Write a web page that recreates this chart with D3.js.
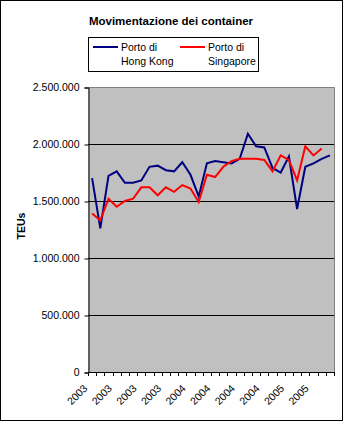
<!DOCTYPE html>
<html>
<head>
<meta charset="utf-8">
<script src="https://cdn.jsdelivr.net/npm/d3@7"></script>
<style>
  body { margin: 0; background: #fff; }
  svg { display: block; font-family: "Liberation Sans", Arial, sans-serif; }
</style>
</head>
<body>
<script>
// Monthly container traffic (TEUs), Jan 2003 - Jun 2005
var mesi = ["2003","2003","2003","2003","2003","2003","2003","2003","2003","2003","2003","2003",
            "2004","2004","2004","2004","2004","2004","2004","2004","2004","2004","2004","2004",
            "2005","2005","2005","2005","2005","2005"];
var hongKong = [1700000, 1260000, 1720000, 1760000, 1660000, 1660000, 1680000, 1800000, 1810000, 1770000,
                1760000, 1840000, 1730000, 1540000, 1830000, 1850000, 1840000, 1830000, 1870000, 2090000,
                1980000, 1970000, 1790000, 1750000, 1890000, 1430000, 1800000, 1830000, 1870000, 1900000];
var singapore = [1390000, 1330000, 1520000, 1450000, 1500000, 1520000, 1620000, 1620000, 1550000, 1620000,
                 1580000, 1640000, 1610000, 1490000, 1730000, 1710000, 1800000, 1850000, 1870000, 1870000,
                 1870000, 1860000, 1760000, 1900000, 1860000, 1680000, 1980000, 1900000, 1960000];
var yTicks = [0, 500000, 1000000, 1500000, 2000000, 2500000];

var width = 343, height = 422;
var plot = { left: 88, right: 334, top: 87, bottom: 372 };

var svg = d3.select("body").append("svg")
    .attr("width", width)
    .attr("height", height);

// chart border
svg.append("rect")
    .attr("x", 0.5).attr("y", 0.5)
    .attr("width", 342).attr("height", 420)
    .attr("fill", "#fff").attr("stroke", "#000");

var x = d3.scaleBand()
    .domain(d3.range(mesi.length))
    .range([plot.left, plot.right]);
var y = d3.scaleLinear()
    .domain([0, 2500000])
    .range([plot.bottom, plot.top]);

var it = d3.formatLocale({ decimal: ",", thousands: ".", grouping: [3], currency: ["€", ""] });
var fmt = it.format(",");

// plot area
svg.append("rect")
    .attr("x", plot.left).attr("y", plot.top)
    .attr("width", plot.right - plot.left).attr("height", plot.bottom - plot.top)
    .attr("fill", "#c0c0c0");

// gridlines
svg.append("g")
    .selectAll("line")
    .data(yTicks.filter(function (d) { return d > 0 && d < 2500000; }))
    .join("line")
    .attr("x1", plot.left).attr("x2", plot.right)
    .attr("y1", function (d) { return Math.round(y(d)) + 0.5; })
    .attr("y2", function (d) { return Math.round(y(d)) + 0.5; })
    .attr("stroke", "#000");

// plot border (top/right)
svg.append("path")
    .attr("d", "M" + (plot.left + 0.5) + "," + (plot.top + 0.5) + "H" + (plot.right + 0.5) + "V" + (plot.bottom + 0.5))
    .attr("fill", "none").attr("stroke", "#808080");

// y axis
var yAxis = svg.append("g")
    .attr("transform", "translate(" + (plot.left + 0.5) + ",0.5)")
    .call(d3.axisLeft(y).tickValues(yTicks).tickFormat(fmt).tickSize(4).tickPadding(5));
yAxis.select(".domain").attr("stroke", "#000");
yAxis.selectAll("text").attr("font-size", "10.5px").attr("fill", "#000")
    .attr("font-family", "Liberation Sans, Arial, sans-serif");

// x axis: ticks on category boundaries
var xg = svg.append("g");
xg.append("line")
    .attr("x1", plot.left).attr("x2", plot.right + 1)
    .attr("y1", plot.bottom + 0.5).attr("y2", plot.bottom + 0.5)
    .attr("stroke", "#000");
xg.selectAll(".tk")
    .data(d3.range(mesi.length + 1))
    .join("line")
    .attr("class", "tk")
    .attr("x1", function (i) { return Math.round(plot.left + i * x.bandwidth()) + 0.5; })
    .attr("x2", function (i) { return Math.round(plot.left + i * x.bandwidth()) + 0.5; })
    .attr("y1", plot.bottom).attr("y2", plot.bottom + 4)
    .attr("stroke", "#000");
xg.selectAll(".lbl")
    .data(mesi.map(function (m, i) { return { m: m, i: i }; }).filter(function (d) { return d.i % 3 === 0; }))
    .join("text")
    .attr("class", "lbl")
    .attr("transform", function (d) {
        return "translate(" + (x(d.i) + x.bandwidth() / 2 - 4) + "," + (plot.bottom + 17) + ") rotate(-45)";
    })
    .attr("text-anchor", "end")
    .attr("font-size", "10.5px")
    .text(function (d) { return d.m; });

// y title
svg.append("text")
    .attr("transform", "translate(25,226) rotate(-90)")
    .attr("text-anchor", "middle")
    .attr("font-size", "10.5px")
    .attr("font-weight", "bold")
    .text("TEUs");

// title
svg.append("text")
    .attr("x", 171).attr("y", 25)
    .attr("text-anchor", "middle")
    .attr("font-size", "11.5px")
    .attr("font-weight", "bold")
    .text("Movimentazione dei container");

// lines
var line = d3.line()
    .x(function (d, i) { return x(i) + x.bandwidth() / 2; })
    .y(function (d) { return y(d); });

svg.append("path")
    .datum(hongKong)
    .attr("d", line)
    .attr("fill", "none").attr("stroke", "#000080").attr("stroke-width", 2);
svg.append("path")
    .datum(singapore)
    .attr("d", line)
    .attr("fill", "none").attr("stroke", "#ff0000").attr("stroke-width", 2);

// legend
var legend = svg.append("g");
legend.append("rect")
    .attr("x", 88.5).attr("y", 37.5).attr("width", 170).attr("height", 34)
    .attr("fill", "#fff").attr("stroke", "#000");
var items = [
    { lines: ["Porto di", "Hong Kong"], color: "#000080", x: 93 },
    { lines: ["Porto di", "Singapore"], color: "#ff0000", x: 180 }
];
items.forEach(function (it) {
    legend.append("line")
        .attr("x1", it.x).attr("x2", it.x + 25)
        .attr("y1", 47).attr("y2", 47)
        .attr("stroke", it.color).attr("stroke-width", 2);
    var t = legend.append("text")
        .attr("x", it.x + 28).attr("y", 51)
        .attr("font-size", "10.5px");
    it.lines.forEach(function (s, k) {
        t.append("tspan").attr("x", it.x + 28).attr("dy", k === 0 ? 0 : 14).text(s);
    });
});
</script>
</body>
</html>
